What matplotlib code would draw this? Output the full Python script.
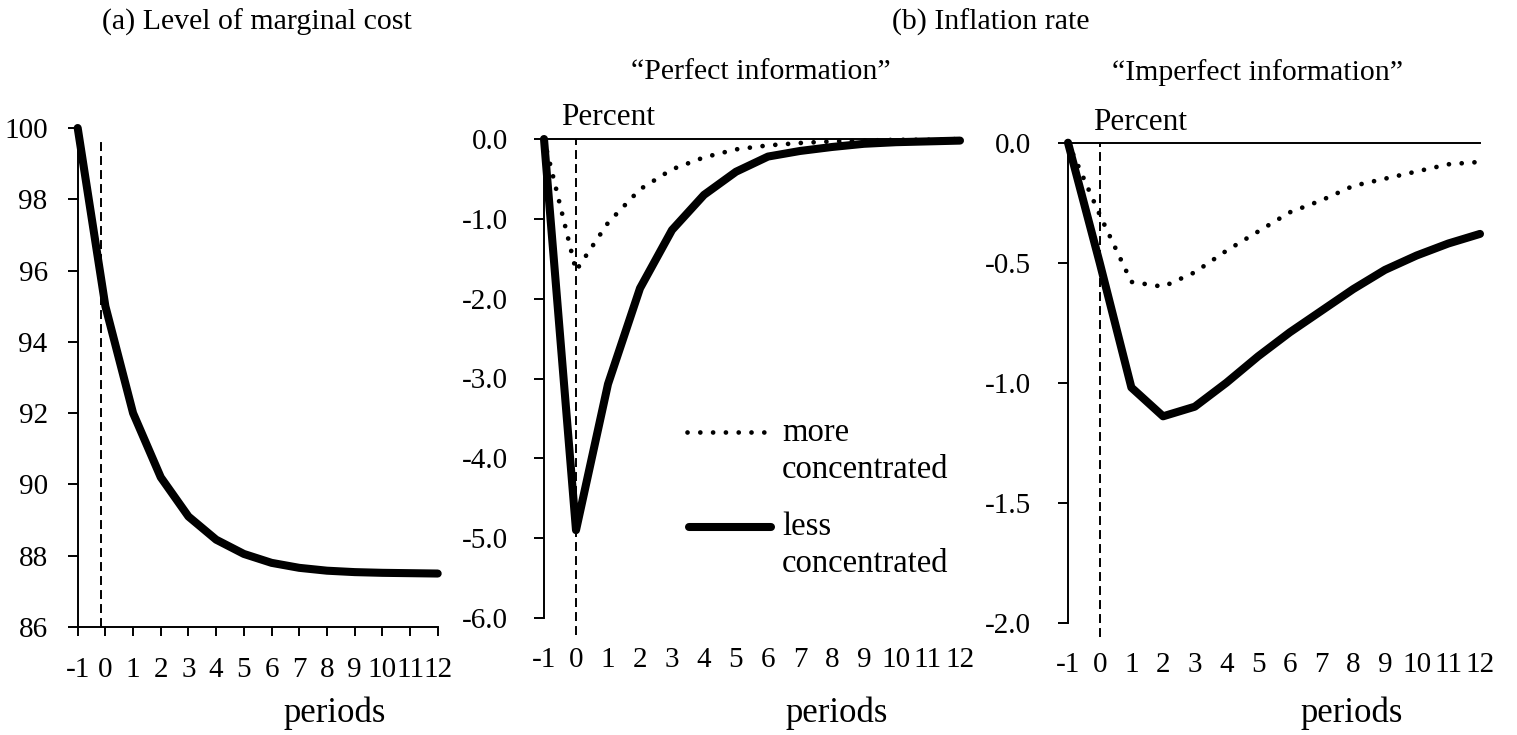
import matplotlib
matplotlib.use("Agg")
import matplotlib.pyplot as plt
from matplotlib.lines import Line2D

# ---- data -------------------------------------------------------------
periods = list(range(-1, 13))
period_labels = [str(p) for p in periods]

# (a) level of marginal cost
marginal_cost = [100.0, 95.0, 92.0, 90.2, 89.1, 88.45, 88.05, 87.8, 87.66,
                 87.58, 87.54, 87.52, 87.51, 87.5]
mc_ticks = [86, 88, 90, 92, 94, 96, 98, 100]
mc_tick_labels = ["86", "88", "90", "92", "94", "96", "98", "100"]

# (b) inflation rate, perfect information
perfect_more = [0.0, -1.65, -1.05, -0.63, -0.38, -0.23, -0.13, -0.08, -0.05,
                -0.03, -0.02, -0.01, -0.01, 0.0]
perfect_less = [0.0, -4.9, -3.07, -1.87, -1.14, -0.70, -0.41, -0.22, -0.15,
                -0.10, -0.06, -0.04, -0.03, -0.02]
perfect_ticks = [0, -1, -2, -3, -4, -5, -6]
perfect_tick_labels = ["0.0", "-1.0", "-2.0", "-3.0", "-4.0", "-5.0", "-6.0"]

# (b) inflation rate, imperfect information
imperfect_more = [0.0, -0.30, -0.58, -0.60, -0.54, -0.45, -0.37, -0.29, -0.24,
                  -0.18, -0.15, -0.12, -0.09, -0.08]
imperfect_less = [0.0, -0.50, -1.02, -1.14, -1.10, -1.00, -0.89, -0.79, -0.70,
                  -0.61, -0.53, -0.47, -0.42, -0.38]
imperfect_ticks = [0, -0.5, -1.0, -1.5, -2.0]
imperfect_tick_labels = ["0.0", "-0.5", "-1.0", "-1.5", "-2.0"]

legend_labels = [("more", "concentrated"), ("less", "concentrated")]

# ---- style ------------------------------------------------------------
plt.rcParams["font.family"] = ["Liberation Serif", "DejaVu Serif"]
plt.rcParams["axes.unicode_minus"] = False

W, H = 1517, 735
fig = plt.figure(figsize=(W / 100, H / 100), dpi=100)
fig.patch.set_facecolor("white")

AXIS_LW = 1.4
THICK = 5.8
DOT_LW = 3.4
DOTTED = (0, (0.01, 2.7))
DASHED = (0, (4.6, 2.6))
TICK_FS = 21


def rect(x0, x1, y_top, y_bot):
    return [x0 / W, 1 - y_bot / H, (x1 - x0) / W, (y_bot - y_top) / H]


def fx(x):
    return x / W


def fy(y):
    return 1 - y / H


def solid(ax, y):
    ax.plot(periods, y, color="black", lw=THICK, solid_capstyle="round",
            solid_joinstyle="round", clip_on=False, zorder=4)


def dots(ax, y):
    ax.plot(periods, y, color="black", lw=DOT_LW, linestyle=DOTTED,
            dash_capstyle="round", clip_on=False, zorder=3)


def style_axes(ax):
    ax.spines["right"].set_visible(False)
    for s in ax.spines.values():
        s.set_linewidth(AXIS_LW)
    ax.set_xlim(-1, 12)
    ax.set_xticks(periods)
    ax.set_xticklabels(period_labels)


# ---- (a) marginal cost ------------------------------------------------
ax_a = fig.add_axes(rect(77.7, 437.7, 128, 627))
style_axes(ax_a)
ax_a.spines["top"].set_visible(False)
ax_a.set_ylim(86, 100)
ax_a.set_yticks(mc_ticks)
ax_a.set_yticklabels(mc_tick_labels)
solid(ax_a, marginal_cost)
ax_a.axvline(-0.16, ymin=0, ymax=0.973, color="black", lw=AXIS_LW,
             linestyle=DASHED, zorder=2)
ax_a.tick_params(axis="y", length=7.2, width=AXIS_LW, pad=14.4,
                 labelsize=TICK_FS)
ax_a.tick_params(axis="x", length=6.5, width=AXIS_LW, pad=15,
                 labelsize=TICK_FS)

# ---- (b) perfect information ------------------------------------------
ax_b = fig.add_axes(rect(544, 960, 139, 618))
style_axes(ax_b)
ax_b.spines["bottom"].set_visible(False)
ax_b.set_ylim(-6, 0)
ax_b.set_yticks(perfect_ticks)
ax_b.set_yticklabels(perfect_tick_labels)
dots(ax_b, perfect_more)
solid(ax_b, perfect_less)
ax_b.axvline(0, ymin=-17 / 479, ymax=1, color="black", lw=AXIS_LW,
             linestyle=DASHED, clip_on=False, zorder=2)
ax_b.tick_params(axis="y", length=7.2, width=AXIS_LW, pad=18.7,
                 labelsize=TICK_FS)
ax_b.tick_params(axis="x", length=0, pad=21, labelsize=TICK_FS)

# ---- (b) imperfect information ----------------------------------------
ax_c = fig.add_axes(rect(1068, 1480, 142.7, 622.7))
style_axes(ax_c)
ax_c.spines["bottom"].set_visible(False)
ax_c.set_ylim(-2, 0)
ax_c.set_yticks(imperfect_ticks)
ax_c.set_yticklabels(imperfect_tick_labels)
dots(ax_c, imperfect_more)
solid(ax_c, imperfect_less)
ax_c.axvline(0, ymin=-14 / 480, ymax=1, color="black", lw=AXIS_LW,
             linestyle=DASHED, clip_on=False, zorder=2)
ax_c.tick_params(axis="y", length=7.2, width=AXIS_LW, pad=19.4,
                 labelsize=TICK_FS)
ax_c.tick_params(axis="x", length=0, pad=21, labelsize=TICK_FS)

# ---- titles and labels ------------------------------------------------
fig.text(fx(257), fy(30), "(a) Level of marginal cost", ha="center",
         va="baseline", fontsize=21.5)
fig.text(fx(991), fy(30), "(b) Inflation rate", ha="center",
         va="baseline", fontsize=21.5)
fig.text(fx(761), fy(79), "\u201cPerfect information\u201d", ha="center",
         va="baseline", fontsize=21.5)
fig.text(fx(1258), fy(80), "\u201cImperfect information\u201d", ha="center",
         va="baseline", fontsize=21.5)
fig.text(fx(608), fy(125), "Percent", ha="center", va="baseline",
         fontsize=22.5)
fig.text(fx(1140), fy(130), "Percent", ha="center", va="baseline",
         fontsize=22.5)
for cx in (335, 837, 1352):
    fig.text(fx(cx), fy(722), "periods", ha="center", va="baseline",
             fontsize=25)

# ---- legend -----------------------------------------------------------
fig.add_artist(Line2D([fx(687), fx(766)], [fy(432), fy(432)],
                      transform=fig.transFigure, color="black", lw=DOT_LW,
                      linestyle=DOTTED, dash_capstyle="round"))
fig.add_artist(Line2D([fx(689), fx(771)], [fy(527), fy(527)],
                      transform=fig.transFigure, color="black", lw=THICK,
                      solid_capstyle="round"))
legend_baselines = [(440.7, 478), (535, 571.7)]
for (first, second), (b1, b2) in zip(legend_labels, legend_baselines):
    fig.text(fx(782), fy(b1), first, ha="left", va="baseline", fontsize=23.5)
    fig.text(fx(782), fy(b2), second, ha="left", va="baseline", fontsize=23.5)

fig.savefig("out.png", dpi=100, facecolor="white")
